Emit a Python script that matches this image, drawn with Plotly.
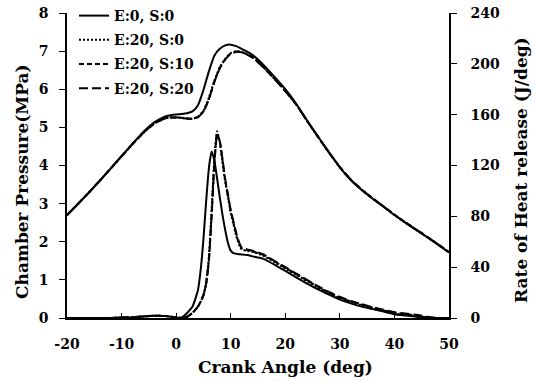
import plotly.graph_objects as go

# ---------------- data ----------------
crank_p = [-20, -18, -16, -14, -12, -10, -8, -6, -4, -2, -1, 0, 1, 2, 3, 4, 5, 6, 7, 8, 9, 10, 11, 12, 13, 14,
           16, 18, 20, 22, 24, 26, 28, 30, 32, 34, 36, 38, 40, 42, 44, 46, 48, 50]

p_e0_s0 = [2.70, 2.99, 3.29, 3.60, 3.92, 4.25, 4.57, 4.88, 5.13, 5.29, 5.32, 5.34, 5.35, 5.37, 5.42, 5.58, 5.98,
           6.47, 6.88, 7.06, 7.15, 7.17, 7.13, 7.06, 6.99, 6.90, 6.64, 6.33, 6.00, 5.62, 5.18, 4.76, 4.35, 3.95,
           3.62, 3.36, 3.13, 2.92, 2.70, 2.50, 2.31, 2.12, 1.92, 1.72]
p_e20_s0 = [2.70, 2.99, 3.29, 3.60, 3.92, 4.24, 4.56, 4.86, 5.10, 5.24, 5.26, 5.26, 5.25, 5.23, 5.23, 5.28, 5.44,
            5.78, 6.22, 6.58, 6.80, 6.95, 7.00, 6.98, 6.92, 6.84, 6.58, 6.28, 5.96, 5.60, 5.17, 4.75, 4.34, 3.95,
            3.62, 3.36, 3.13, 2.92, 2.70, 2.50, 2.31, 2.12, 1.92, 1.72]
p_e20_s10 = [2.70, 2.99, 3.29, 3.60, 3.92, 4.24, 4.56, 4.86, 5.10, 5.24, 5.26, 5.26, 5.25, 5.23, 5.23, 5.27, 5.42,
             5.75, 6.20, 6.56, 6.79, 6.94, 6.99, 6.97, 6.92, 6.84, 6.58, 6.28, 5.96, 5.60, 5.17, 4.75, 4.34, 3.96,
             3.63, 3.37, 3.14, 2.93, 2.71, 2.51, 2.32, 2.13, 1.93, 1.73]
p_e20_s20 = [2.70, 2.99, 3.29, 3.60, 3.92, 4.24, 4.56, 4.86, 5.10, 5.24, 5.26, 5.26, 5.25, 5.23, 5.23, 5.27, 5.41,
             5.74, 6.19, 6.55, 6.78, 6.93, 6.98, 6.97, 6.91, 6.83, 6.57, 6.27, 5.95, 5.60, 5.17, 4.75, 4.34, 3.96,
             3.63, 3.37, 3.14, 2.93, 2.71, 2.51, 2.32, 2.13, 1.93, 1.73]

crank_h = [-20, -16, -12, -10, -8, -6, -4, -2, -1, 0, 1, 2, 3, 4, 4.5, 5, 5.5, 6, 6.5, 7, 7.5, 8, 8.5, 9, 9.5,
           10, 10.5, 11, 11.5, 12, 13, 14, 16, 18, 20, 22, 24, 26, 28, 30, 32, 34, 36, 38, 40, 42, 44, 46, 48, 50]

h_e0_s0 = [0, 0, 0, 0.3, 0.6, 1.2, 1.8, 1.5, 1.0, 0.3, 0.5, 4, 9, 22, 38, 62, 92, 118, 131, 124, 110, 95, 81, 69, 59,
           53, 51, 50.5, 50.2, 50, 49.5, 48.5, 46.5, 42, 37, 32, 27, 22.5, 18.5, 14.5, 11.5, 9, 7, 5, 3, 2, 1, 0, 0, 0]
h_e20_s0 = [0, 0, 0, 0.3, 0.6, 1.2, 1.8, 1.5, 1.0, 0.3, 0, 1, 4, 9, 13, 18, 28, 48, 85, 125, 147, 138, 122, 107, 95,
            83, 74, 65, 58, 54, 53, 52, 49, 44, 39, 34, 29, 24, 19.5, 15.5, 12.5, 10, 7.5, 5.5, 3.5, 2.5, 1.5, 0.3, 0, 0]
h_e20_s10 = [0, 0, 0, 0.3, 0.6, 1.2, 1.8, 1.5, 1.0, 0.3, 0, 1, 4, 9, 13, 18, 27, 46, 82, 122, 145, 139, 124, 108, 96,
             84, 75, 66, 59, 55, 53.5, 52.5, 49.5, 44.5, 39.5, 34.5, 29.5, 24.5, 20, 16, 13, 10.5, 8, 6, 4, 3, 2, 0.5, 0, 0]
h_e20_s20 = [0, 0, 0, 0.3, 0.6, 1.2, 1.8, 1.5, 1.0, 0.3, 0, 1, 4, 9, 13, 18, 27, 45, 80, 120, 144, 139, 125, 109, 97,
             85, 76, 67, 60, 55.5, 54, 53, 50, 45, 40, 35, 30, 25, 20.5, 16.5, 13.5, 11, 8.5, 6.5, 4.5, 3.5, 2.5, 1, 0, 0]

series_names = ["E:0, S:0", "E:20, S:0", "E:20, S:10", "E:20, S:20"]

x_tickvals = [-20, -10, 0, 10, 20, 30, 40, 50]
x_ticktext = ["-20", "-10", "0", "10", "20", "30", "40", "50"]
y_tickvals = [0, 1, 2, 3, 4, 5, 6, 7, 8]
y2_tickvals = [0, 40, 80, 120, 160, 200, 240]

# ---------------- styles ----------------
FONT = "DejaVu Serif"
dashes = ["solid", "2px,2px", "5px,3px", "9px,4px"]
p_series = [p_e0_s0, p_e20_s0, p_e20_s10, p_e20_s20]
h_series = [h_e0_s0, h_e20_s0, h_e20_s10, h_e20_s20]

# figure pixel geometry: plot area left 67, right 449, top 13, bottom 318
W, H = 536, 382
L, R, B = 67, 87, 64
PLOT_TOP = 13
paper_h = H - B            # paper spans px 0 .. 318 vertically (t = 0)
dom_top = (paper_h - PLOT_TOP) / paper_h
plot_w = W - L - R


def px_x(px):
    return (px - L) / plot_w


def px_y(py):
    return (paper_h - py) / paper_h


fig = go.Figure()
for name, p, dash in zip(series_names, p_series, dashes):
    fig.add_trace(go.Scatter(
        x=crank_p, y=p, name=name, mode="lines", legendgroup=name,
        line=dict(color="black", width=2, dash=dash, shape="spline", smoothing=0.5),
    ))
for name, h, dash in zip(series_names, h_series, dashes):
    fig.add_trace(go.Scatter(
        x=crank_h, y=h, name=name, mode="lines", yaxis="y2", showlegend=False, legendgroup=name,
        line=dict(color="black", width=2, dash=dash, shape="spline", smoothing=0.5),
    ))

tickfont = dict(family=FONT, size=14, color="black", weight="bold")
titlefont = dict(family=FONT, size=17, color="black", weight="bold")

fig.update_layout(
    width=W, height=H,
    margin=dict(l=L, r=R, t=0, b=B, autoexpand=False),
    paper_bgcolor="white", plot_bgcolor="white",
    showlegend=True,
    legend=dict(x=px_x(74), y=px_y(0), xanchor="left", yanchor="top",
                bgcolor="rgba(0,0,0,0)", font=dict(family=FONT, size=14, color="black", weight="bold"),
                tracegroupgap=3, traceorder="grouped"),
    xaxis=dict(range=[-20, 50], tickvals=x_tickvals, ticktext=x_ticktext, automargin=False,
               showgrid=False, zeroline=False, showline=True, linecolor="black", linewidth=1.5,
               ticks="inside", ticklen=5, tickwidth=1.2, tickcolor="black",
               tickfont=tickfont, ticklabelstandoff=12),
    yaxis=dict(range=[0, 8], tickvals=y_tickvals, domain=[0, dom_top], automargin=False,
               showgrid=False, zeroline=False, showline=True, linecolor="black", linewidth=1.5,
               ticks="outside", ticklen=6, tickwidth=1.2, tickcolor="black",
               tickfont=tickfont, ticklabelstandoff=8),
    yaxis2=dict(range=[0, 240], tickvals=y2_tickvals, overlaying="y", side="right",
                automargin=False,
                showgrid=False, zeroline=False, showline=True, linecolor="black", linewidth=1.5,
                ticks="outside", ticklen=6, tickwidth=1.2, tickcolor="black",
                tickfont=tickfont, ticklabelstandoff=11),
    annotations=[
        dict(text="Crank Angle (deg)", xref="paper", yref="paper", x=px_x(285), y=px_y(367),
             xanchor="center", yanchor="middle", showarrow=False, font=titlefont),
        dict(text="Chamber Pressure(MPa)", xref="paper", yref="paper", x=px_x(22), y=px_y(182),
             xanchor="center", yanchor="middle", textangle=-90, showarrow=False, font=titlefont),
        dict(text="Rate of Heat release (J/deg)", xref="paper", yref="paper", x=px_x(521), y=px_y(170),
             xanchor="center", yanchor="middle", textangle=-90, showarrow=False, font=titlefont),
    ],
)

fig.write_html("out.html", config={"displayModeBar": False},
               post_script="document.body.style.margin='0';document.body.style.padding='0';"
                           "document.documentElement.style.overflow='hidden';")
